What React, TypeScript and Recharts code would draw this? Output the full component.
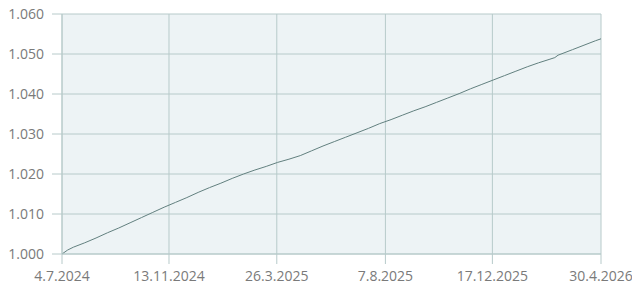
import { LineChart, Line, XAxis, YAxis, CartesianGrid } from "recharts";

// index level readings, roughly every two weeks
const dates = [
    "2024-07-04", "2024-07-11", "2024-07-18", "2024-08-01", "2024-08-15", "2024-08-29",
    "2024-09-12", "2024-09-26", "2024-10-10", "2024-10-24", "2024-11-07", "2024-11-21",
    "2024-12-05", "2024-12-19", "2025-01-02", "2025-01-16", "2025-01-30", "2025-02-13",
    "2025-02-27", "2025-03-13", "2025-03-27", "2025-04-10", "2025-04-24", "2025-05-08",
    "2025-05-22", "2025-06-05", "2025-06-19", "2025-07-03", "2025-07-17", "2025-07-31",
    "2025-08-14", "2025-08-28", "2025-09-11", "2025-09-25", "2025-10-09", "2025-10-23",
    "2025-11-06", "2025-11-20", "2025-12-04", "2025-12-18", "2026-01-01", "2026-01-15",
    "2026-01-29", "2026-02-12", "2026-02-26", "2026-03-04", "2026-03-08", "2026-03-26",
    "2026-04-09", "2026-04-23", "2026-04-30",
];
const values = [
    1.0000, 1.0010, 1.0017, 1.0028, 1.0040, 1.0053,
    1.0065, 1.0078, 1.0091, 1.0104, 1.0117, 1.0129,
    1.0141, 1.0154, 1.0166, 1.0177, 1.0189, 1.0200,
    1.0210, 1.0219, 1.0229, 1.0237, 1.0246, 1.0258,
    1.0270, 1.0281, 1.0292, 1.0303, 1.0314, 1.0326,
    1.0336, 1.0347, 1.0358, 1.0368, 1.0379, 1.0390,
    1.0401, 1.0413, 1.0424, 1.0435, 1.0446, 1.0457,
    1.0468, 1.0478, 1.0487, 1.0491, 1.0497, 1.0511,
    1.0522, 1.0533, 1.0538,
];
const xTicks = ["2024-07-04", "2024-11-13", "2025-03-26", "2025-08-07", "2025-12-17", "2026-04-30"];
const yTicks = [1.0, 1.01, 1.02, 1.03, 1.04, 1.05, 1.06];

const GRID = "#b7caca";
const TEXT = "#7a7a7a";
const FONT = "'Open Sans', sans-serif";

const toTs = (s: string) => new Date(s + "T00:00:00Z").getTime();
const fmtDate = (t: number) => {
    const d = new Date(t);
    return `${d.getUTCDate()}.${d.getUTCMonth() + 1}.${d.getUTCFullYear()}`;
};

const data = dates.map((d, i) => ({ t: toTs(d), v: values[i] }));
const xTickTs = xTicks.map(toTs);

export default function App() {
    return (
        <div style={{ position: "absolute", left: 0, top: 0, width: 632, height: 284, background: "#fff" }}>
            <LineChart width={632} height={284} data={data}
                margin={{ top: 14, right: 31, left: 0, bottom: 0 }}
                style={{ fontFamily: FONT }}>
                <CartesianGrid stroke={GRID} fill="#edf3f5" />
                <XAxis
                    dataKey="t"
                    type="number"
                    domain={[xTickTs[0], xTickTs[xTickTs.length - 1]]}
                    ticks={xTickTs}
                    interval={0}
                    tickFormatter={fmtDate}
                    height={30}
                    tickSize={10}
                    tickMargin={7}
                    stroke={GRID}
                    tick={{ fontSize: 14, fill: TEXT }}
                />
                <YAxis
                    type="number"
                    domain={[1.0, 1.06]}
                    ticks={yTicks}
                    interval={0}
                    tickFormatter={(v: number) => v.toFixed(3)}
                    width={62}
                    tickSize={10}
                    tickMargin={8}
                    stroke={GRID}
                    tick={{ fontSize: 14, fill: TEXT }}
                />
                <Line type="linear" dataKey="v" stroke="#62807f" strokeWidth={1}
                    dot={false} isAnimationActive={false} />
            </LineChart>
        </div>
    );
}
